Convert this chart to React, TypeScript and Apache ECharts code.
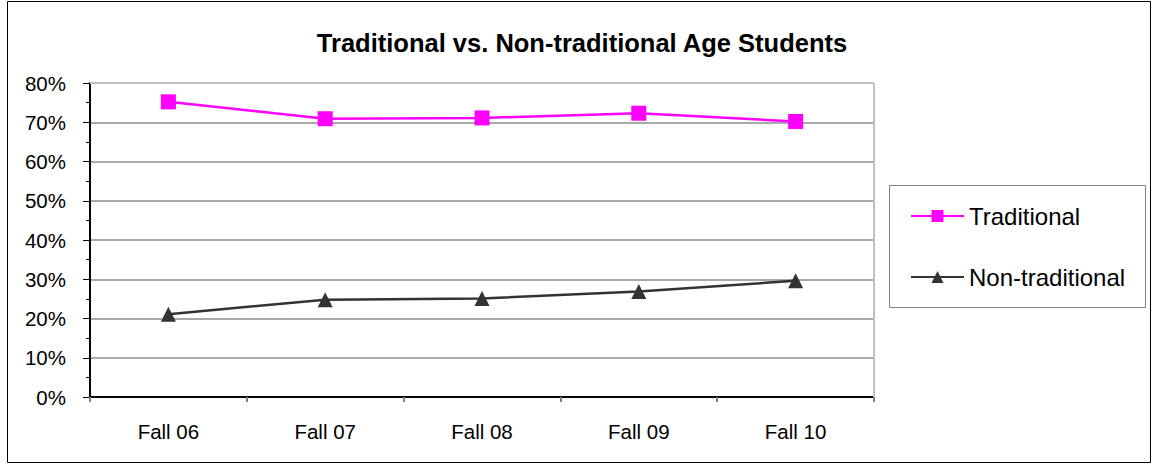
import React, { useEffect, useRef } from "react";
import * as echarts from "echarts";

const categories = ["Fall 06", "Fall 07", "Fall 08", "Fall 09", "Fall 10"];
const traditional = [75.2, 70.9, 71.1, 72.3, 70.2];
const nonTraditional = [21.1, 24.8, 25.1, 26.9, 29.6];
const seriesNames = ["Traditional", "Non-traditional"];
const titleText = "Traditional vs. Non-traditional Age Students";

const W = 1153;
const H = 470;
const G = { left: 90, top: 83, right: 874, bottom: 397 };
const FONT = "Liberation Sans, Arial, sans-serif";

export default function App() {
  const ref = useRef<HTMLDivElement>(null);
  useEffect(() => {
    document.body.style.margin = "0";
    const chart = echarts.init(ref.current!, undefined, { renderer: "svg", width: W, height: H });
    chart.setOption({
      animation: false,
      backgroundColor: "#ffffff",
      textStyle: { fontFamily: FONT },
      title: {
        text: titleText,
        left: 582,
        textAlign: "center",
        top: 30,
        padding: 0,
        textStyle: { fontFamily: FONT, fontSize: 25.5, fontWeight: "bold", color: "#000" },
      },
      grid: { left: G.left, top: G.top, width: G.right - G.left, height: G.bottom - G.top, containLabel: false },
      legend: {
        orient: "vertical",
        left: 910,
        top: 204,
        itemWidth: 53,
        itemHeight: 15,
        itemGap: 37,
        padding: 0,
        data: seriesNames,
        textStyle: { fontFamily: FONT, fontSize: 24, color: "#000", padding: [0, 0, 0, 0] },
      },
      xAxis: {
        type: "category",
        data: categories,
        boundaryGap: true,
        axisLine: { lineStyle: { color: "#000", width: 2 } },
        axisTick: { show: true, length: 5, lineStyle: { color: "#808080", width: 2 } },
        axisLabel: { fontFamily: FONT, fontSize: 20.5, color: "#000", margin: 24 },
        splitLine: { show: false },
      },
      yAxis: {
        type: "value",
        min: 0,
        max: 80,
        interval: 10,
        axisLine: { show: true, lineStyle: { color: "#000", width: 2 } },
        axisTick: { show: true, length: 7, lineStyle: { color: "#000", width: 1 } },
        minorTick: { show: true, splitNumber: 2, length: 4, lineStyle: { color: "#000", width: 1 } },
        axisLabel: { fontFamily: FONT, fontSize: 20.5, color: "#000", margin: 24, formatter: "{value}%" },
        splitLine: { show: true, lineStyle: { color: "#8c8c8c", width: 1.5 } },
      },
      graphic: [
        { type: "rect", shape: { x: 7.5, y: 1.5, width: 1143, height: 461 }, style: { fill: "none", stroke: "#000", lineWidth: 1 }, z: 100 },
        { type: "line", shape: { x1: G.left, y1: G.top, x2: G.right, y2: G.top }, style: { stroke: "#c0c0c0", lineWidth: 2 }, z: 100 },
        { type: "line", shape: { x1: G.right, y1: G.top, x2: G.right, y2: G.bottom }, style: { stroke: "#c0c0c0", lineWidth: 2 }, z: 100 },
        { type: "rect", shape: { x: 889.5, y: 185.5, width: 256, height: 122 }, style: { fill: "none", stroke: "#808080", lineWidth: 1 }, z: 100 },
      ],
      series: [
        {
          name: seriesNames[0],
          type: "line",
          data: traditional,
          symbol: "rect",
          symbolSize: 15,
          itemStyle: { color: "#ff00ff" },
          lineStyle: { color: "#ff00ff", width: 2.5 },
          z: 5,
        },
        {
          name: seriesNames[1],
          type: "line",
          data: nonTraditional,
          symbol: "triangle",
          symbolSize: 15,
          itemStyle: { color: "#333333" },
          lineStyle: { color: "#333333", width: 2.5 },
          z: 5,
        },
      ],
    });
    return () => chart.dispose();
  }, []);
  return <div ref={ref} style={{ width: W, height: H }} />;
}
